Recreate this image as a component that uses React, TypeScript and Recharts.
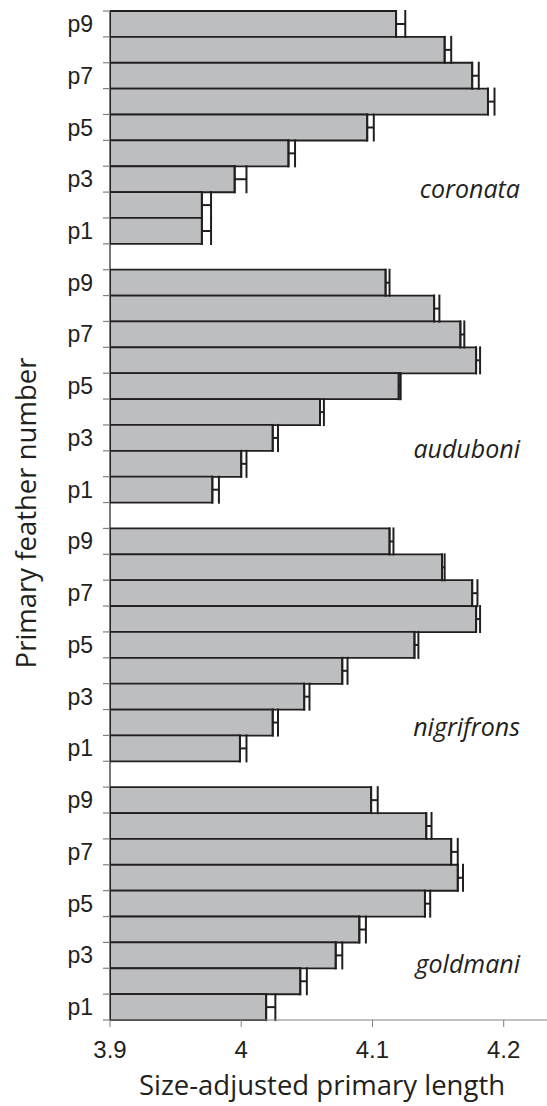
import { BarChart, Bar, XAxis, YAxis, ErrorBar } from "recharts";

const featherLabels = ["p9", "p8", "p7", "p6", "p5", "p4", "p3", "p2", "p1"];
const shownLabels = ["p9", "p7", "p5", "p3", "p1"];
const species = ["coronata", "auduboni", "nigrifrons", "goldmani"];

// means and standard errors, p9 (top) -> p1 (bottom)
const coronataMean = [4.118, 4.155, 4.176, 4.188, 4.096, 4.036, 3.995, 3.970, 3.970];
const coronataSE = [0.007, 0.005, 0.005, 0.005, 0.005, 0.005, 0.009, 0.007, 0.007];
const auduboniMean = [4.110, 4.147, 4.167, 4.179, 4.120, 4.060, 4.024, 4.000, 3.978];
const auduboniSE = [0.003, 0.004, 0.003, 0.003, 0.0015, 0.003, 0.004, 0.004, 0.005];
const nigrifronsMean = [4.113, 4.153, 4.176, 4.179, 4.132, 4.077, 4.048, 4.024, 3.999];
const nigrifronsSE = [0.003, 0.002, 0.004, 0.003, 0.003, 0.004, 0.004, 0.004, 0.005];
const goldmaniMean = [4.099, 4.141, 4.160, 4.165, 4.140, 4.090, 4.072, 4.045, 4.019];
const goldmaniSE = [0.005, 0.004, 0.005, 0.004, 0.004, 0.005, 0.005, 0.005, 0.007];

const xTicks = [3.9, 4, 4.1, 4.2];

const means = [coronataMean, auduboniMean, nigrifronsMean, goldmaniMean];
const ses = [coronataSE, auduboniSE, nigrifronsSE, goldmaniSE];

type Row = { key: string; label: string; mean: number | null; err: number[] | null };

const rows: Row[] = [];
species.forEach((sp, s) => {
  featherLabels.forEach((f, i) => {
    rows.push({ key: `${sp}-${f}`, label: f, mean: means[s][i], err: [0, ses[s][i]] });
  });
  if (s < species.length - 1) rows.push({ key: `gap-${s}`, label: "", mean: null, err: null });
});

const W = 547;
const H = 1106;
const TOP = 11;
const BOTTOM = 86;
const AXIS_W = 110;
const bandH = (H - TOP - BOTTOM) / rows.length;

const ink = "#231f20";
const tickFont = "'Liberation Sans', Arial, sans-serif";

const YTick = (props: any) => {
  const { y, payload } = props;
  const idx = payload.index;
  const row = rows[idx];
  if (!row || !row.label) return null;
  const next = rows[idx + 1];
  const top = y - bandH / 2;
  const bottom = y + bandH / 2;
  return (
    <g>
      <line x1={AXIS_W - 7} x2={AXIS_W} y1={top} y2={top} stroke="#808080" strokeWidth={1.2} />
      {(!next || !next.label) && (
        <line x1={AXIS_W - 7} x2={AXIS_W} y1={bottom} y2={bottom} stroke="#808080" strokeWidth={1.2} />
      )}
      {shownLabels.includes(row.label) && (
        <text
          x={93}
          y={y + 2}
          textAnchor="end"
          dominantBaseline="middle"
          fontFamily={tickFont}
          fontSize={23}
          fill={ink}
        >
          {row.label}
        </text>
      )}
    </g>
  );
};

const speciesPos = [191, 451, 729, 966];

export default function App() {
  return (
    <div style={{ position: "absolute", left: 0, top: 0, width: W, height: H, background: "#fff" }}>
      <BarChart
        width={W}
        height={H}
        data={rows}
        layout="vertical"
        margin={{ top: TOP, right: 0, left: 0, bottom: BOTTOM - 30 }}
        barCategoryGap={0}
      >
        <XAxis
          type="number"
          domain={[3.9, 4.233]}
          allowDataOverflow
          ticks={xTicks}
          tickFormatter={(v) => String(v)}
          height={30}
          stroke="#808080"
          tickSize={7}
          tickMargin={14}
          tick={{ fontSize: 24, fill: ink, fontFamily: tickFont }}
        />
        <YAxis
          type="category"
          dataKey="key"
          width={AXIS_W}
          interval={0}
          tickLine={false}
          axisLine={{ stroke: ink, strokeWidth: 1.2 }}
          tick={<YTick />}
        />
        <Bar dataKey="mean" fill="#bcbec0" stroke={ink} strokeWidth={1.8} isAnimationActive={false}>
          <ErrorBar dataKey="err" direction="x" width={14} stroke={ink} strokeWidth={2} />
        </Bar>
      </BarChart>
      <svg width={W} height={H} style={{ position: "absolute", left: 0, top: 0, pointerEvents: "none" }}>
        {species.map((sp, i) => (
          <text
            key={sp}
            x={520}
            y={speciesPos[i]}
            textAnchor="end"
            dominantBaseline="middle"
            fontFamily="'Open Sans', 'Noto Sans', sans-serif"
            fontStyle="italic"
            fontSize={25}
            fill={ink}
          >
            {sp}
          </text>
        ))}
        <text
          x={322}
          y={1088}
          textAnchor="middle"
          dominantBaseline="middle"
          fontFamily="'Open Sans', 'Noto Sans', sans-serif"
          fontSize={27.5}
          fill={ink}
        >
          Size-adjusted primary length
        </text>
        <text
          transform="translate(29, 513) rotate(-90)"
          textAnchor="middle"
          dominantBaseline="middle"
          fontFamily="'Open Sans', 'Noto Sans', sans-serif"
          fontSize={27.5}
          fill={ink}
        >
          Primary feather number
        </text>
      </svg>
    </div>
  );
}
